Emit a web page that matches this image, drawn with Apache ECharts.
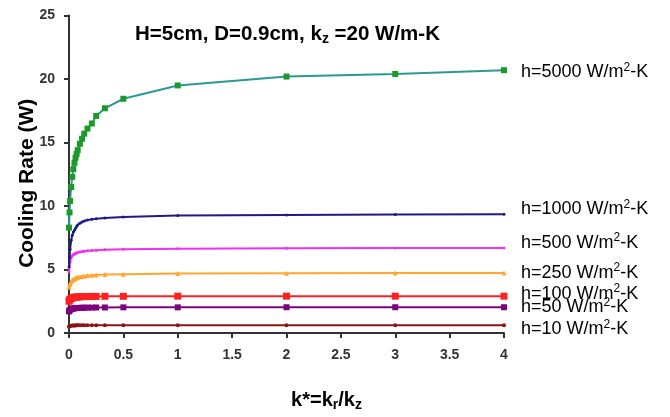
<!DOCTYPE html>
<html>
<head>
<meta charset="utf-8">
<script src="https://cdn.jsdelivr.net/npm/echarts@6/dist/echarts.min.js"></script>
<style>html,body{margin:0;padding:0;background:#fff}#c{width:670px;height:417px}</style>
</head>
<body>
<div id="c"></div>
<script>
// k* values (shared by all curves)
var kStar = [0, 0.005, 0.01, 0.02, 0.03, 0.04, 0.05, 0.06, 0.07, 0.08, 0.1, 0.12, 0.14, 0.17, 0.21, 0.25, 0.33, 0.5, 1, 2, 3, 4];
// Cooling rate (W) per convection coefficient h
var h5000 = [8.3, 9.5, 10.4, 11.5, 12.3, 12.9, 13.4, 13.8, 14.1, 14.4, 14.9, 15.3, 15.7, 16.1, 16.5, 17.1, 17.7, 18.45, 19.5, 20.2, 20.4, 20.7];
var h1000 = [5.2, 6.0, 6.6, 7.3, 7.7, 7.95, 8.1, 8.25, 8.4, 8.5, 8.65, 8.75, 8.82, 8.9, 8.95, 9.0, 9.05, 9.13, 9.25, 9.3, 9.33, 9.35];
var h500  = [4.8, 5.3, 5.6, 5.95, 6.1, 6.18, 6.23, 6.28, 6.31, 6.34, 6.38, 6.42, 6.44, 6.47, 6.5, 6.52, 6.55, 6.6, 6.64, 6.67, 6.69, 6.7];
var h250  = [3.6, 3.8, 3.9, 4.05, 4.15, 4.22, 4.28, 4.32, 4.36, 4.39, 4.43, 4.46, 4.49, 4.52, 4.55, 4.57, 4.6, 4.63, 4.68, 4.7, 4.72, 4.73];
var h100  = [2.5, 2.6, 2.66, 2.72, 2.76, 2.79, 2.81, 2.82, 2.83, 2.84, 2.85, 2.86, 2.87, 2.87, 2.88, 2.88, 2.89, 2.89, 2.9, 2.9, 2.9, 2.9];
var h50   = [1.7, 1.78, 1.83, 1.88, 1.91, 1.93, 1.95, 1.96, 1.97, 1.97, 1.98, 1.99, 1.99, 2.0, 2.0, 2.01, 2.01, 2.02, 2.02, 2.03, 2.03, 2.03];
var h10   = [0.5, 0.54, 0.56, 0.58, 0.59, 0.6, 0.6, 0.6, 0.61, 0.61, 0.61, 0.61, 0.61, 0.61, 0.61, 0.61, 0.61, 0.61, 0.61, 0.61, 0.61, 0.61];
var hLabels = ['5000', '1000', '500', '250', '100', '50', '10'];
var yTicks = [0, 5, 10, 15, 20, 25];
var xTicks = [0, 0.5, 1, 1.5, 2, 2.5, 3, 3.5, 4];

var FONT = '"Liberation Sans", Arial, Helvetica, sans-serif';
function pairs(vals) { return kStar.map(function (k, i) { return [k, vals[i]]; }); }

var styles = [
  {data: h5000, line: '#2b9a96', mark: '#1a9a2a', symbol: 'rect', size: 6, dy: 2},
  {data: h1000, line: '#1c1c86', mark: '#1c1c86', symbol: 'circle', size: 3, dy: -5},
  {data: h500,  line: '#f030f0', mark: '#f030f0', symbol: 'circle', size: 3, dy: -5},
  {data: h250,  line: '#ffa530', mark: '#ffa530', symbol: 'triangle', size: 5, dy: 0},
  {data: h100,  line: '#ff2020', mark: '#ff2020', symbol: 'rect', size: 7, dy: -2},
  {data: h50,   line: '#800080', mark: '#800080', symbol: 'rect', size: 6, dy: 0},
  {data: h10,   line: '#8b1414', mark: '#8b1414', symbol: 'circle', size: 4, dy: 4}
];

var series = styles.map(function (s, i) {
  var lbl = hLabels[i];
  return {
    name: 'h=' + lbl,
    type: 'line',
    data: pairs(s.data),
    symbol: s.symbol,
    symbolSize: s.size,
    showAllSymbol: true,
    smooth: false,
    lineStyle: {color: s.line, width: 2},
    itemStyle: {color: s.mark},
    z: 10 - i,
    endLabel: {
      show: true,
      distance: 17,
      offset: [0, s.dy],
      formatter: function () { return '{n|h=' + lbl + ' W/m}{s|2}{n|-K}'; },
      rich: {
        n: {fontFamily: FONT, fontSize: 18, color: '#000'},
        s: {fontFamily: FONT, fontSize: 12, color: '#000', padding: [0, 0, 10, 0]}
      }
    }
  };
});

var chart = echarts.init(document.getElementById('c'), null, {renderer: 'canvas'});
chart.setOption({
  animation: false,
  backgroundColor: '#fff',
  title: {
    text: '{t|H=5cm, D=0.9cm, k}{sub|z}{t| =20 W/m-K}',
    left: 130, top: 17,
    textStyle: {
      rich: {
        t: {fontFamily: FONT, fontSize: 20.5, fontWeight: 'bold', color: '#000'},
        sub: {fontFamily: FONT, fontSize: 14, fontWeight: 'bold', color: '#000', padding: [10, 0, 0, 0]}
      }
    }
  },
  grid: {left: 69, right: 166, top: 15.6, bottom: 83.5},
  xAxis: {
    type: 'value', min: xTicks[0], max: xTicks[xTicks.length - 1], interval: 0.5,
    name: '{t|k*=k}{sub|r}{t|/k}{sub|z}',
    nameLocation: 'middle', nameGap: 55,
    nameTextStyle: {
      padding: [0, 0, 0, 80],
      rich: {
        t: {fontFamily: FONT, fontSize: 20, fontWeight: 'bold', color: '#000'},
        sub: {fontFamily: FONT, fontSize: 14, fontWeight: 'bold', color: '#000', padding: [10, 0, 0, 0]}
      }
    },
    axisLine: {lineStyle: {color: '#333', width: 2}},
    axisTick: {length: 5, lineStyle: {color: '#333', width: 2}},
    axisLabel: {fontFamily: FONT, fontSize: 14, fontWeight: 'bold', color: '#333', margin: 15},
    splitLine: {show: false}
  },
  yAxis: {
    type: 'value', min: yTicks[0], max: yTicks[yTicks.length - 1], interval: 5,
    name: 'Cooling Rate (W)',
    nameLocation: 'middle', nameGap: 31, nameMoveOverlap: false,
    nameTextStyle: {fontFamily: FONT, fontSize: 21, fontWeight: 'bold', color: '#000', padding: [0, 18, 0, 0]},
    axisLine: {show: true, lineStyle: {color: '#333', width: 2}},
    axisTick: {show: true, length: 5, lineStyle: {color: '#333', width: 2}},
    axisLabel: {fontFamily: FONT, fontSize: 14, fontWeight: 'bold', color: '#333', margin: 14},
    splitLine: {show: false}
  },
  series: series
});
</script>
</body>
</html>
